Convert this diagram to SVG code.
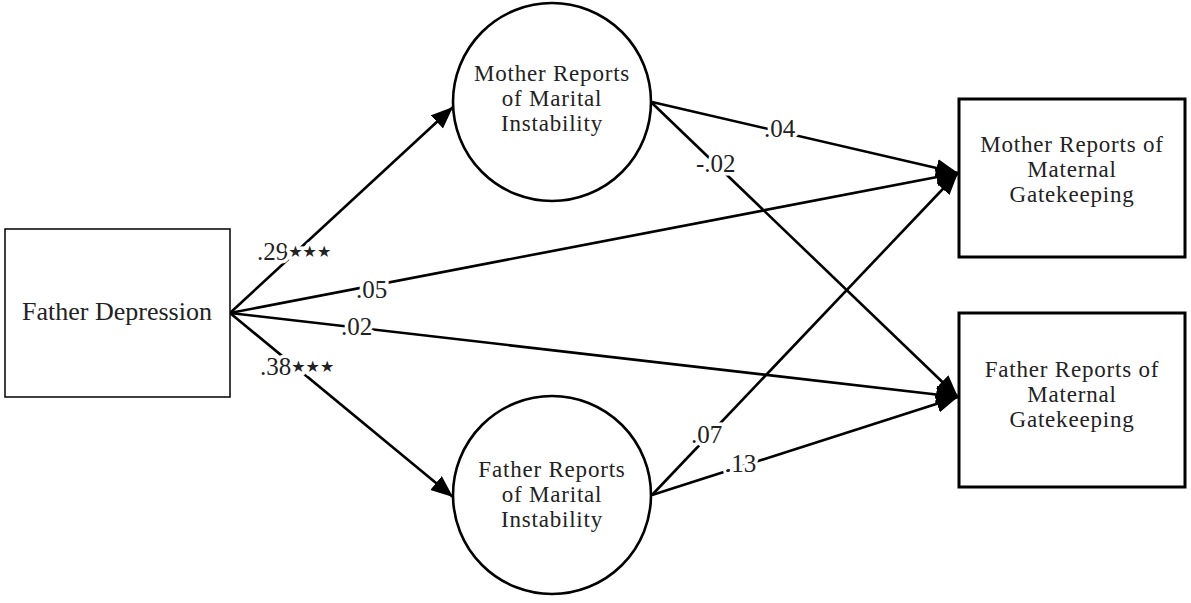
<svg xmlns="http://www.w3.org/2000/svg" width="1191" height="603" viewBox="0 0 1191 603">
<style>
.t{font-family:"Liberation Serif","Times New Roman",serif;font-size:23px;letter-spacing:0.8px;fill:#222;text-anchor:middle}
.big{font-size:26px;letter-spacing:0}
.lb{font-family:"Liberation Serif","Times New Roman",serif;font-size:25px;fill:#222;stroke:#fff;stroke-width:7px;paint-order:stroke;stroke-linejoin:round}
.st{font-family:"DejaVu Sans",sans-serif;font-size:16px}
.e{stroke:#000;stroke-width:2.6;fill:none}
.n{fill:#fff;stroke:#000}
</style>
<defs>
<marker id="a" markerUnits="userSpaceOnUse" markerWidth="24" markerHeight="20" refX="22" refY="9" orient="auto">
<path d="M0,0 L22,9 L0,18 z" fill="#000"/>
</marker>
</defs>
<g id="connectors">
<line class="e" x1="230" y1="313" x2="453" y2="107" marker-end="url(#a)"/>
<line class="e" x1="230" y1="313" x2="453" y2="497" marker-end="url(#a)"/>
<line class="e" x1="230" y1="313" x2="958" y2="173" marker-end="url(#a)"/>
<line class="e" x1="230" y1="313" x2="958" y2="397" marker-end="url(#a)"/>
<line class="e" x1="652" y1="102" x2="958" y2="173" marker-end="url(#a)"/>
<line class="e" x1="652" y1="103" x2="958" y2="397" marker-end="url(#a)"/>
<line class="e" x1="652" y1="495" x2="958" y2="173" marker-end="url(#a)"/>
<line class="e" x1="652" y1="495" x2="958" y2="397" marker-end="url(#a)"/>
<text class="lb" x="257" y="260">.29<tspan class="st" dy="-3">★★★</tspan></text>
<text class="lb" x="356" y="298">.05</text>
<text class="lb" x="341" y="335">.02</text>
<text class="lb" x="260" y="375">.38<tspan class="st" dy="-3">★★★</tspan></text>
<text class="lb" x="764" y="137">.04</text>
<text class="lb" x="696" y="172">-.02</text>
<text class="lb" x="691" y="443">.07</text>
<text class="lb" x="725" y="472">.13</text>
</g>
<g id="father-depression">
<rect class="n" x="5" y="229" width="225" height="168" stroke-width="1.5"/>
<text class="t big" x="117" y="320">Father Depression</text>
</g>
<g id="mother-marital">
<circle class="n" cx="552" cy="102" r="99" stroke-width="2.6"/>
<text class="t" x="552" y="81">Mother Reports</text>
<text class="t" x="552" y="106">of Marital</text>
<text class="t" x="552" y="131">Instability</text>
</g>
<g id="father-marital">
<circle class="n" cx="552" cy="495" r="99" stroke-width="2.6"/>
<text class="t" x="552" y="477">Father Reports</text>
<text class="t" x="552" y="502">of Marital</text>
<text class="t" x="552" y="527">Instability</text>
</g>
<g id="mother-gatekeeping">
<rect class="n" x="959" y="99" width="226" height="158" stroke-width="3"/>
<text class="t" x="1072" y="152">Mother Reports of</text>
<text class="t" x="1072" y="177">Maternal</text>
<text class="t" x="1072" y="202">Gatekeeping</text>
</g>
<g id="father-gatekeeping">
<rect class="n" x="959" y="313" width="226" height="174" stroke-width="3"/>
<text class="t" x="1072" y="377">Father Reports of</text>
<text class="t" x="1072" y="402">Maternal</text>
<text class="t" x="1072" y="427">Gatekeeping</text>
</g>
</svg>
